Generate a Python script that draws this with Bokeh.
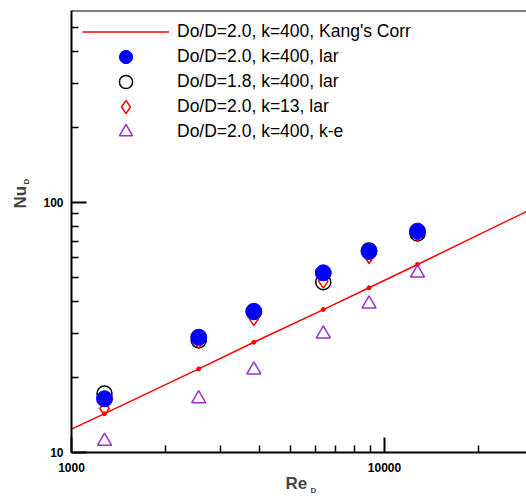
import math
from bokeh.plotting import figure
from bokeh.models import (FixedTicker, NumeralTickFormatter, Legend, LegendItem,
                          Label, Span)
from bokeh.embed import file_html
from bokeh.resources import INLINE

# ---- data ----
re_d = [1275, 2550, 3825, 6375, 8925, 12750]
nu_lar_d20_k400 = [16.4, 28.9, 36.7, 52.3, 63.7, 76.8]
nu_lar_d18_k400 = [17.2, 28.1, 36.5, 48.0, 64.3, 75.2]
nu_lar_d20_k13 = [15.0, 27.8, 34.3, 48.5, 60.8, 74.8]
nu_ke_d20_k400 = [11.1, 16.4, 21.4, 29.8, 39.3, 52.2]

kang_re = [1000, 1275, 2550, 3825, 6375, 8925, 12750, 30000]
kang_nu = [12.4, 14.3, 21.6, 27.6, 37.3, 45.6, 56.5, 95.1]
kang_pt_re = [1275, 2550, 3825, 6375, 8925, 12750]
kang_pt_nu = [14.3, 21.6, 27.6, 37.3, 45.6, 56.5]

legend_labels = [
    "Do/D=2.0, k=400, Kang's Corr",
    "Do/D=2.0, k=400, lar",
    "Do/D=1.8, k=400, lar",
    "Do/D=2.0, k=13, lar",
    "Do/D=2.0, k=400, k-e",
]

x_major = [1000, 10000]
x_minor = [2000, 3000, 4000, 5000, 6000, 7000, 8000, 9000, 20000]
y_major = [10, 100]
y_minor = [20, 30, 40, 50, 60, 70, 80, 90, 200, 300, 400, 500]

X_MIN, X_MAX = 1000, 28430
Y_MIN, Y_MAX = 10, 586

FONT = "Liberation Sans"

p = figure(width=526, height=500, x_axis_type="log", y_axis_type="log",
           x_range=(X_MIN, X_MAX), y_range=(Y_MIN, Y_MAX),
           output_backend="svg", toolbar_location=None,
           min_border_left=71, min_border_right=0, min_border_top=10,
           min_border_bottom=48)
p.outline_line_color = None
p.xgrid.visible = False
p.ygrid.visible = False
p.background_fill_color = "white"

p.xaxis.ticker = FixedTicker(ticks=x_major, minor_ticks=x_minor)
p.yaxis.ticker = FixedTicker(ticks=y_major, minor_ticks=y_minor)
for ax in (p.xaxis[0], p.yaxis[0]):
    ax.formatter = NumeralTickFormatter(format="0")
    ax.axis_line_width = 2
    ax.axis_line_color = "black"
    ax.major_tick_in = 15
    ax.major_tick_out = 0
    ax.minor_tick_in = 7
    ax.minor_tick_out = 0
    ax.major_tick_line_width = 2
    ax.minor_tick_line_width = 1.5
    ax.major_tick_line_color = "black"
    ax.minor_tick_line_color = "black"
    ax.major_label_text_font = FONT
    ax.major_label_text_font_style = "bold"
    ax.major_label_text_font_size = "12px"
    ax.major_label_text_color = "black"
p.xaxis.major_label_standoff = 10
p.yaxis.major_label_standoff = 8

# top frame line
p.add_layout(Span(location=Y_MAX, dimension="width", line_color="black", line_width=2))

# Kang's correlation line
r_line = p.line(kang_re, kang_nu, line_color="red", line_width=1.5)
p.scatter(kang_pt_re, kang_pt_nu, marker="circle", size=4, fill_color="red", line_color="red")

r_open = p.scatter(re_d, nu_lar_d18_k400, marker="circle", size=15, fill_color=None,
                   line_color="black", line_width=1.5)
r_diam = p.scatter(re_d, nu_lar_d20_k13, marker="diamond", size=14, fill_color=None,
                   line_color="red", line_width=1.5)
r_blue = p.scatter(re_d, nu_lar_d20_k400, marker="circle", size=16, fill_color="blue",
                   line_color="blue")
r_tri = p.scatter(re_d, nu_ke_d20_k400, marker="triangle", size=14, fill_color=None,
                  line_color="#9932CC", line_width=1.5)

legend_style = dict(glyph_width=87, glyph_height=33, label_height=33, spacing=17,
                    padding=5, margin=0, label_standoff=8,
                    label_text_font=FONT, label_text_font_size="17.5px",
                    label_text_color="black", background_fill_alpha=0,
                    border_line_alpha=0)
# rows 1, 3, 5
legend_a = Legend(items=[
    LegendItem(label=legend_labels[0], renderers=[r_line]),
    LegendItem(label=legend_labels[2], renderers=[r_open]),
    LegendItem(label=legend_labels[4], renderers=[r_tri]),
], location=(6, 299), **legend_style)
# rows 2, 4 (interleaved)
legend_b = Legend(items=[
    LegendItem(label=legend_labels[1], renderers=[r_blue]),
    LegendItem(label=legend_labels[3], renderers=[r_diam]),
], location=(6, 324), **legend_style)
p.add_layout(legend_a)
p.add_layout(legend_b)

# axis titles with subscripts (placed in side panels so they are not clipped)
p.add_layout(Label(x=214, y=10, x_units="screen", y_units="screen", text="Re",
                   text_font=FONT, text_font_style="bold", text_font_size="17px",
                   text_align="left", text_baseline="middle"), "below")
p.add_layout(Label(x=-1, y=244, x_units="screen", y_units="screen", text="Nu",
                   text_font=FONT, text_font_style="bold", text_font_size="17px",
                   text_align="left", text_baseline="middle", angle=math.pi / 2), "left")
p.add_layout(Label(x=13.7, y=268, x_units="screen", y_units="screen", text="D",
                   text_font=FONT, text_font_style="bold", text_font_size="8px",
                   text_align="left", text_baseline="middle", angle=math.pi / 2), "left")
p.add_layout(Label(x=304, y=-38, x_units="screen", y_units="screen", text="D",
                   text_font=FONT, text_font_style="bold", text_font_size="8px",
                   text_align="left", text_baseline="middle"), "left")

open("out.html", "w").write(file_html(p, INLINE))
